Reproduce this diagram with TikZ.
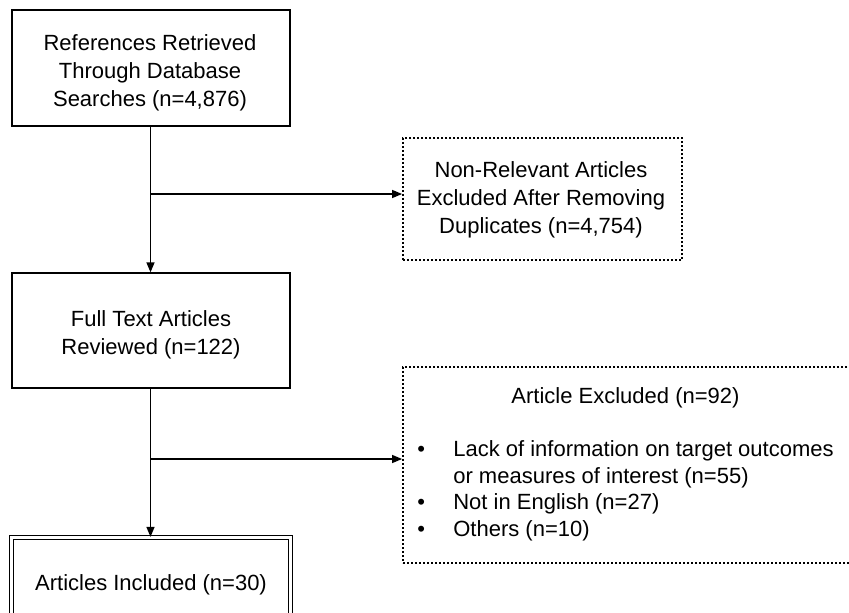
\documentclass[tikz,border=0pt]{standalone}
\usepackage{fontspec}
\setmainfont{Liberation Sans}
\usetikzlibrary{arrows.meta}
\begin{document}
\begin{tikzpicture}[x=1pt,y=1pt,
  box/.style={draw, line width=1.3pt, inner sep=0pt},
  dotbox/.style={draw, line width=1.8pt, dash pattern=on 1.8pt off 2.2pt, inner sep=0pt},
  dbox/.style={box, line width=1.2pt, double, double distance=3pt},
  boxtext/.style={inner sep=0pt, align=center, font=\fontsize{22}{28}\selectfont},
  listtext/.style={inner sep=0pt, font=\fontsize{22}{26.5}\selectfont},
  arr/.style={line width=1.3pt, -{Triangle[length=10pt,width=8pt]}}]
\useasboundingbox (0,0) rectangle (849,-613);
% boxes
\node[box, minimum width=278pt, minimum height=116pt] (b1) at (151,-68) {};
\node[dotbox, minimum width=279pt, minimum height=122pt] (b2) at (542.5,-199) {};
\node[box, minimum width=278pt, minimum height=115pt] (b3) at (151,-330.5) {};
\node[dotbox, minimum width=452pt, minimum height=196pt] (b4) at (629,-465) {};
\node[dbox, minimum width=279.5pt, minimum height=89pt] (b5) at (151,-582) {};
% texts
\node[boxtext] (b1t) at (150,-73)
  {References Retrieved\\Through Database\\Searches (n=4,876)};
\node[boxtext] (b2t) at (541,-200)
  {Non-Relevant Articles\\Excluded After Removing\\Duplicates (n=4,754)};
\node[boxtext] (b3t) at (151,-334.5)
  {Full Text Articles\\Reviewed (n=122)};
\node[boxtext] (b5t) at (151,-585)
  {Articles Included (n=30)};
\node[listtext] (b4t) at (625.5,-464.5)
  {\begin{tabular}{@{}p{36pt}@{}l@{}}
   \multicolumn{2}{c}{Article Excluded (n=92)}\\
   \\
   \textbullet & Lack of information on target outcomes\\
    & or measures of interest (n=55)\\
   \textbullet & Not in English (n=27)\\
   \textbullet & Others (n=10)
   \end{tabular}};
% connectors
\coordinate (j1) at (150.5,-194);
\coordinate (j2) at (150.5,-459);
\draw[arr] (b1.south -| j1) -- (b3.north -| j1);
\draw[arr] (b3.south -| j2) -- (b5.north -| j2);
\draw[arr] (j1) -- (j1 -| b2.west);
\draw[arr] (j2) -- (j2 -| b4.west);
\end{tikzpicture}
\end{document}
